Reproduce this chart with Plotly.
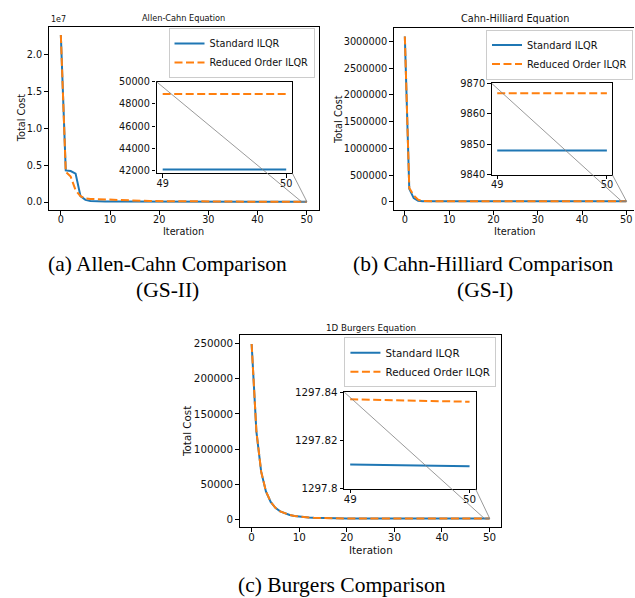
import plotly.graph_objects as go

# ---------------- data ----------------
iterations = list(range(51))

ac_standard = [22650000, 4290000, 4200000, 3850000, 800000, 300000, 160000, 110000, 90000, 80000,
               72000, 67000, 63000, 60000, 57500, 55500, 53800, 52300, 51000, 49900,
               48900, 48000, 47200, 46500, 45900, 45400, 44900, 44500, 44150, 43850,
               43600, 43400, 43200, 43050, 42900, 42780, 42670, 42570, 42490, 42420,
               42360, 42310, 42270, 42230, 42200, 42180, 42160, 42140, 42120, 42100, 42100]
ac_reduced = [22650000, 4100000, 3450000, 1600000, 800000, 480000, 420000, 390000, 360000, 330000,
              300000, 275000, 250000, 228000, 208000, 190000, 174000, 160000, 148000, 137000,
              127000, 118000, 110000, 103000, 97000, 91500, 86500, 82000, 78000, 74500,
              71300, 68500, 66000, 63800, 61800, 60000, 58400, 57000, 55700, 54600,
              53600, 52700, 51900, 51200, 50600, 50100, 49700, 49300, 49000, 48900, 48900]

ch_standard = [3090000, 243000, 70000, 22000, 12500, 10500, 10100, 9980, 9930, 9905,
               9890, 9880, 9873, 9868, 9864, 9861, 9859, 9857, 9855.5, 9854.3,
               9853.3, 9852.5, 9851.8, 9851.2, 9850.7, 9850.3, 9850.0, 9849.7, 9849.5, 9849.3,
               9849.1, 9848.95, 9848.8, 9848.7, 9848.6, 9848.5, 9848.4, 9848.35, 9848.3, 9848.25,
               9848.2, 9848.15, 9848.1, 9848.1, 9848.05, 9848.0, 9848.0, 9848.0, 9848.0, 9848.0, 9848.0]
ch_reduced = [3090000, 260000, 120000, 40000, 15000, 11000, 10300, 10050, 9970, 9935,
              9915, 9902, 9893, 9887, 9882.5, 9879, 9876.5, 9874.5, 9873, 9871.8,
              9870.8, 9870.0, 9869.4, 9868.9, 9868.5, 9868.2, 9867.9, 9867.7, 9867.5, 9867.35,
              9867.2, 9867.15, 9867.1, 9867.05, 9867.0, 9866.97, 9866.94, 9866.91, 9866.89, 9866.87,
              9866.85, 9866.84, 9866.83, 9866.82, 9866.81, 9866.8, 9866.8, 9866.8, 9866.8, 9866.8, 9866.8]

bu_standard = [249500, 125000, 68000, 40000, 25000, 16500, 11500, 8400, 6400, 5000,
               4000, 3350, 2850, 2500, 2230, 2030, 1870, 1750, 1650, 1575,
               1515, 1468, 1430, 1400, 1376, 1357, 1342, 1330, 1321, 1314,
               1309, 1305.5, 1303, 1301.5, 1300.4, 1299.6, 1299.0, 1298.6, 1298.35, 1298.2,
               1298.08, 1298.0, 1297.94, 1297.9, 1297.87, 1297.85, 1297.835, 1297.825, 1297.816, 1297.8101, 1297.8093]
bu_reduced = [249500, 125500, 68300, 40200, 25100, 16550, 11530, 8420, 6410, 5010,
              4005, 3355, 2853, 2502, 2232, 2032, 1872, 1752, 1652, 1577,
              1517, 1470, 1432, 1402, 1378, 1359, 1344, 1332, 1323, 1316,
              1311, 1307, 1304.3, 1302.5, 1301.2, 1300.2, 1299.5, 1299.0, 1298.65, 1298.4,
              1298.24, 1298.12, 1298.04, 1297.98, 1297.94, 1297.91, 1297.885, 1297.865, 1297.85, 1297.837, 1297.836]

series_names = ["Standard ILQR", "Reduced Order ILQR"]
panel_titles = ["Allen-Cahn Equation", "Cahn-Hilliard Equation", "1D Burgers Equation"]
captions = [["(a) Allen-Cahn Comparison", "(GS-II)"],
            ["(b) Cahn-Hilliard Comparison", "(GS-I)"],
            ["(c) Burgers Comparison"]]
x_label = "Iteration"
y_label = "Total Cost"

ac_yticks = [0, 5e6, 1e7, 1.5e7, 2e7]
ac_yticktext = ["0.0", "0.5", "1.0", "1.5", "2.0"]
ch_yticks = [0, 500000, 1000000, 1500000, 2000000, 2500000, 3000000]
bu_yticks = [0, 50000, 100000, 150000, 200000, 250000]
ac_inset_yticks = [42000, 44000, 46000, 48000, 50000]
ch_inset_yticks = [9840, 9850, 9860, 9870]
bu_inset_yticks = [1297.8, 1297.82, 1297.84]
bu_inset_yticktext = ["1297.8", "1297.82", "1297.84"]
main_xticks = [0, 10, 20, 30, 40, 50]
inset_xticks = [49, 50]

# ---------------- layout geometry (pixels of the 635x598 page) ----------------
W, H = 635, 598
BLUE, ORANGE, GRAY = "#1f77b4", "#ff7f0e", "#808080"
SANS, SERIF = "DejaVu Sans", "Liberation Serif"
DASH = "8px,3.5px"


def dx(a, b):
    return [a / W, min(b / W, 1.0)]


def dy(top, bottom):
    return [1 - bottom / H, 1 - top / H]


panels = [
    dict(std=ac_standard, red=ac_reduced, fs=9.7, tfs=8.2,
         mdx=dx(47.7, 319), mdy=dy(21, 208.3), mxr=[-2.5, 52.5], myr=[-1.09e6, 23.78e6],
         idx=dx(156, 292.3), idy=dy(77.3, 170.7), ixr=[48.95, 50.05], iyr=[41750, 50000],
         myt=dict(tickvals=ac_yticks, ticktext=ac_yticktext),
         iyt=dict(tickvals=ac_inset_yticks, tickformat="d"),
         mirror_y=True,
         legend=dict(x=314.5 / W, y=1 - 22.5 / H),
         title_xy=(183.4, 12), ylab_xy=(20, 114.6), xlab_xy=(183.4, 230.5)),
    dict(std=ch_standard, red=ch_reduced, fs=9.8, tfs=9.7,
         mdx=dx(394, 635), mdy=dy(22.7, 208.3), mxr=[-2.5, 51.73], myr=[-154000, 3244000],
         idx=dx(492.3, 613.3), idy=dy(79, 172.3), ixr=[48.95, 50.05], iyr=[9840, 9870],
         myt=dict(tickvals=ch_yticks, tickformat="d"),
         iyt=dict(tickvals=ch_inset_yticks, tickformat="d"),
         mirror_y=False,
         legend=dict(x=634 / W, y=1 - 24 / H),
         title_xy=(515.8, 13), ylab_xy=(338, 115.5), xlab_xy=(516, 230)),
    dict(std=bu_standard, red=bu_reduced, fs=10.3, tfs=8.7,
         mdx=dx(239.5, 502), mdy=dy(336, 532), mxr=[-2.5, 52.5], myr=[-11112, 261910],
         idx=dx(344.3, 476), idy=dy(394, 492.7), ixr=[48.95, 50.05], iyr=[1297.8, 1297.84],
         myt=dict(tickvals=bu_yticks, tickformat="d"),
         iyt=dict(tickvals=bu_inset_yticks, ticktext=bu_inset_yticktext),
         mirror_y=True,
         legend=dict(x=497 / W, y=1 - 338 / H),
         title_xy=(370.8, 328.5), ylab_xy=(187.3, 434), xlab_xy=(370.8, 555)),
]


def to_paper(v, rng, dom):
    return dom[0] + (v - rng[0]) / (rng[1] - rng[0]) * (dom[1] - dom[0])


fig = go.Figure()
layout = dict(width=W, height=H, margin=dict(l=0, r=0, t=0, b=0),
              paper_bgcolor="white", plot_bgcolor="white", showlegend=True,
              font=dict(family=SANS, color="#111"))
shapes, annotations = [], []

for k, p in enumerate(panels):
    mi, ii = 2 * k + 1, 2 * k + 2
    mx = "x" if mi == 1 else f"x{mi}"
    my = "y" if mi == 1 else f"y{mi}"
    ix, iy = f"x{ii}", f"y{ii}"
    leg = "legend" if k == 0 else f"legend{k + 1}"
    tickfont = dict(family=SANS, size=p["fs"], color="#111")
    base = dict(showgrid=False, zeroline=False, showline=True, linecolor="black",
                linewidth=1, ticks="outside", ticklen=3.5, tickwidth=1, tickcolor="black",
                tickfont=tickfont, fixedrange=True)

    # main curves
    for vals, name, color, dash in [(p["std"], series_names[0], BLUE, "solid"),
                                    (p["red"], series_names[1], ORANGE, DASH)]:
        fig.add_trace(go.Scatter(x=iterations, y=vals, mode="lines", name=name,
                                 line=dict(color=color, width=2, dash=dash),
                                 xaxis=mx, yaxis=my, legend=leg, hoverinfo="skip"))
    # inset curves (last two iterations)
    for vals, name, color, dash in [(p["std"], series_names[0], BLUE, "solid"),
                                    (p["red"], series_names[1], ORANGE, DASH)]:
        fig.add_trace(go.Scatter(x=iterations[49:], y=vals[49:], mode="lines", name=name,
                                 line=dict(color=color, width=2, dash=dash),
                                 xaxis=ix, yaxis=iy, showlegend=False, hoverinfo="skip"))

    mxkey = "xaxis" if mi == 1 else f"xaxis{mi}"
    mykey = "yaxis" if mi == 1 else f"yaxis{mi}"
    layout[mxkey] = dict(base, domain=p["mdx"], range=p["mxr"], anchor=my,
                         tickvals=main_xticks, mirror=True, ticklabelstandoff=-3)
    layout[mykey] = dict(base, domain=p["mdy"], range=p["myr"], anchor=mx,
                         mirror=p["mirror_y"], **p["myt"])
    layout[f"xaxis{ii}"] = dict(base, domain=p["idx"], range=p["ixr"], anchor=iy,
                                tickvals=inset_xticks, mirror=True, linewidth=1.3,
                                ticklabelstandoff=-3)
    layout[f"yaxis{ii}"] = dict(base, domain=p["idy"], range=p["iyr"], anchor=ix,
                                mirror=True, linewidth=1.3, **p["iyt"])

    layout[leg] = dict(x=p["legend"]["x"], y=p["legend"]["y"], xanchor="right", yanchor="top",
                       bgcolor="rgba(255,255,255,0.85)", bordercolor="#cccccc", borderwidth=1,
                       font=dict(family=SANS, size=p["fs"], color="#111"),
                       itemwidth=30, tracegroupgap=0)

    # inset marker rectangle in the main axes
    shapes.append(dict(type="rect", xref=mx, yref=my, x0=p["ixr"][0], x1=p["ixr"][1],
                       y0=p["iyr"][0], y1=p["iyr"][1], line=dict(color=GRAY, width=0.8),
                       layer="above"))
    # connector lines: inset upper-left -> rect upper-left, inset lower-right -> rect lower-right
    for (ixv, iyv, cx, cy) in [(p["idx"][0], p["idy"][1], p["ixr"][0], p["iyr"][1]),
                               (p["idx"][1], p["idy"][0], p["ixr"][1], p["iyr"][0])]:
        shapes.append(dict(type="line", xref="paper", yref="paper",
                           x0=ixv, y0=iyv,
                           x1=to_paper(cx, p["mxr"], p["mdx"]),
                           y1=to_paper(cy, p["myr"], p["mdy"]),
                           line=dict(color=GRAY, width=0.8), layer="above"))

    # title and axis labels
    tx, ty = p["title_xy"]
    annotations.append(dict(text=panel_titles[k], x=tx / W, y=1 - ty / H, xref="paper", yref="paper",
                            showarrow=False, xanchor="center", yanchor="middle",
                            font=dict(family=SANS, size=p["tfs"], color="#111")))
    lx, ly = p["ylab_xy"]
    annotations.append(dict(text=y_label, x=lx / W, y=1 - ly / H, xref="paper", yref="paper",
                            showarrow=False, textangle=-90, xanchor="center", yanchor="middle",
                            font=dict(family=SANS, size=p["fs"], color="#111")))
    bx, by = p["xlab_xy"]
    annotations.append(dict(text=x_label, x=bx / W, y=1 - by / H, xref="paper", yref="paper",
                            showarrow=False, xanchor="center", yanchor="middle",
                            font=dict(family=SANS, size=p["fs"], color="#111")))

# scientific offset text of panel (a)
annotations.append(dict(text="1e7", x=48 / W, y=1 - 13.5 / H, xref="paper", yref="paper",
                        showarrow=False, xanchor="left", yanchor="middle",
                        font=dict(family=SANS, size=8, color="#111")))

# captions
caption_pos = [[(167, 263.5), (167, 289.5)], [(484, 263.5), (486, 289.5)], [(342, 590.5)]]
for lines, poss in zip(captions, caption_pos):
    for t, (cx, cy) in zip(lines, poss):
        annotations.append(dict(text=t, x=cx / W, y=1 - cy / H, xref="paper", yref="paper",
                                showarrow=False, xanchor="center", yanchor="middle",
                                font=dict(family=SERIF, size=21.5, color="black")))

layout["shapes"] = shapes
layout["annotations"] = annotations
fig.update_layout(**layout)
fig.write_html("out.html", config=dict(displayModeBar=False),
               post_script="document.body.style.margin='0px';document.body.style.overflow='hidden';")
